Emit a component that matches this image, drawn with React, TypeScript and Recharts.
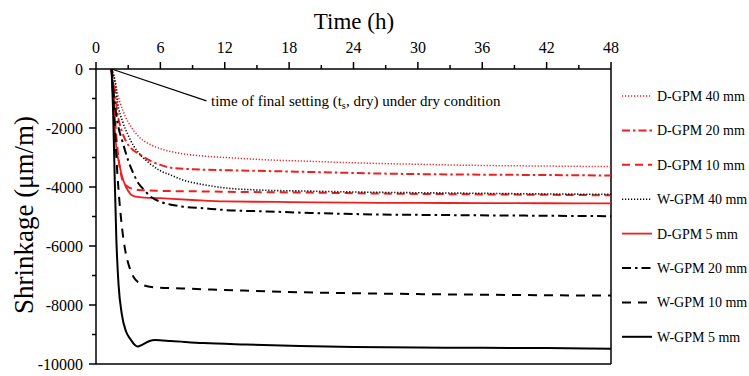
import { LineChart, Line, XAxis, YAxis, ReferenceLine } from "recharts";

// [time (h), shrinkage (µm/m)]
const dGpm40 = [
  [1.45, 0], [1.8, -400], [2.0, -800], [2.5, -1400], [3, -1800], [3.5, -2080], [4, -2300],
  [5, -2550], [6, -2700], [7, -2800], [8, -2870], [10, -2950], [13, -3020], [16, -3080],
  [20, -3130], [25, -3190], [30, -3230], [36, -3270], [42, -3290], [48, -3310],
];
const dGpm20 = [
  [1.45, 0], [1.7, -600], [2.0, -1500], [2.4, -2100], [2.8, -2450], [3.3, -2700], [4, -2880],
  [5, -3100], [6, -3250], [7, -3350], [9, -3400], [12, -3430], [16, -3460], [20, -3490],
  [26, -3540], [32, -3570], [40, -3590], [48, -3610],
];
const dGpm10 = [
  [1.45, 0], [1.65, -800], [1.8, -1800], [2.0, -2700], [2.2, -3300], [2.5, -3800], [3, -4000],
  [3.5, -4070], [4, -4100], [6, -4130], [10, -4150], [14, -4170], [20, -4190], [26, -4220],
  [32, -4240], [40, -4260], [48, -4280],
];
const wGpm40 = [
  [1.45, 0], [1.8, -500], [2.0, -1100], [2.5, -1800], [3, -2250], [3.5, -2600], [4, -2850],
  [5, -3200], [6, -3450], [7, -3600], [8, -3750], [10, -3920], [12, -4030], [15, -4100],
  [20, -4140], [26, -4180], [32, -4200], [40, -4230], [48, -4250],
];
const dGpm5 = [
  [1.45, 0], [1.6, -1000], [1.75, -2000], [1.9, -2700], [2.1, -3100], [2.4, -3600], [2.8, -4000],
  [3.2, -4230], [3.6, -4320], [4, -4340], [6, -4380], [9, -4440], [12, -4490], [18, -4510],
  [24, -4530], [30, -4540], [36, -4545], [42, -4550], [48, -4555],
];
const wGpm20 = [
  [1.45, 0], [1.7, -1000], [2.0, -1800], [2.5, -2500], [3, -3100], [3.5, -3550], [4, -3900],
  [4.5, -4100], [5, -4300], [6, -4500], [7, -4600], [8, -4660], [10, -4720], [12, -4780],
  [16, -4830], [20, -4880], [26, -4930], [32, -4950], [40, -4970], [48, -4990],
];
const wGpm10 = [
  [1.45, 0], [1.7, -1500], [1.9, -3000], [2.1, -4100], [2.4, -5300], [2.7, -6100], [3.1, -6700],
  [3.5, -7050], [4, -7250], [4.5, -7340], [5.5, -7400], [8, -7440], [12, -7490], [18, -7560],
  [24, -7600], [30, -7630], [36, -7650], [42, -7670], [48, -7680],
];
const wGpm5 = [
  [1.45, 0], [1.6, -1500], [1.75, -3800], [1.9, -5800], [2.1, -7300], [2.4, -8300], [2.8, -8900],
  [3.2, -9150], [3.6, -9350], [3.9, -9410], [4.3, -9350], [5, -9220], [5.5, -9190], [7, -9220],
  [10, -9290], [14, -9340], [19, -9390], [24, -9420], [30, -9440], [36, -9450], [42, -9460],
  [48, -9480],
];

const xTicks = [0, 3, 6, 9, 12, 15, 18, 21, 24, 27, 30, 33, 36, 39, 42, 45, 48];
const yTicks = [0, -1000, -2000, -3000, -4000, -5000, -6000, -7000, -8000, -9000, -10000];

const RED = "#ee1f1f";
const FONT = '"Liberation Serif", "Times New Roman", "DejaVu Serif", serif';
const txt = { fontFamily: FONT };

const series = [
  { name: "D-GPM 40 mm", data: dGpm40, color: RED, dash: "1.2 1.8", width: 1.5 },
  { name: "D-GPM 20 mm", data: dGpm20, color: RED, dash: "8 3 2.5 3", width: 2 },
  { name: "D-GPM 10 mm", data: dGpm10, color: RED, dash: "8 5", width: 2 },
  { name: "W-GPM 40 mm", data: wGpm40, color: "#000", dash: "1.2 1.8", width: 1.6 },
  { name: "D-GPM 5 mm", data: dGpm5, color: RED, dash: undefined, width: 1.8 },
  { name: "W-GPM 20 mm", data: wGpm20, color: "#000", dash: "9 4 2.5 4", width: 2 },
  { name: "W-GPM 10 mm", data: wGpm10, color: "#000", dash: "9 7", width: 2 },
  { name: "W-GPM 5 mm", data: wGpm5, color: "#000", dash: undefined, width: 2 },
];

const TOP = 69;
const LEFT = 96;

const XTick = ({ x, payload }: any) => {
  const major = payload.value % 6 === 0;
  return (
    <g>
      <line x1={x} x2={x} y1={TOP} y2={TOP - (major ? 7 : 4)} stroke="#000" strokeWidth={1.5} />
      {major && (
        <text x={x} y={53} textAnchor="middle" fontSize={16} style={txt} fill="#000">
          {payload.value}
        </text>
      )}
    </g>
  );
};

const YTick = ({ y, payload }: any) => {
  const major = payload.value % 2000 === 0;
  return (
    <g>
      <line x1={LEFT} x2={LEFT - (major ? 7 : 4)} y1={y} y2={y} stroke="#000" strokeWidth={1.5} />
      {major && (
        <text x={83} y={y + 5.5} textAnchor="end" fontSize={16} style={txt} fill="#000">
          {payload.value}
        </text>
      )}
    </g>
  );
};

export default function App() {
  return (
    <div style={{ position: "absolute", left: 0, top: 0, width: 749, height: 376, background: "#fff", fontFamily: FONT }}>
      <LineChart width={749} height={376} margin={{ top: 0, right: 138, bottom: 12, left: 0 }}>
        <XAxis
          type="number"
          dataKey="t"
          orientation="top"
          domain={[0, 48]}
          ticks={xTicks}
          interval={0}
          height={TOP}
          tickLine={false}
          tickSize={0}
          tick={<XTick />}
          axisLine={{ stroke: "#000", strokeWidth: 1.5 }}
          allowDataOverflow
        />
        <YAxis
          type="number"
          dataKey="v"
          domain={[-10000, 0]}
          ticks={yTicks}
          interval={0}
          width={LEFT}
          tickLine={false}
          tickSize={0}
          tick={<YTick />}
          axisLine={{ stroke: "#000", strokeWidth: 1.5 }}
          allowDataOverflow
        />
        <ReferenceLine x={48} stroke="#000" strokeWidth={1.5} />
        <ReferenceLine y={-10000} stroke="#000" strokeWidth={1.5} />
        <ReferenceLine
          segment={[{ x: 1.45, y: 0 }, { x: 10.3, y: -1080 }]}
          stroke="#000"
          strokeWidth={1.2}
        />
        {series.map((s) => (
          <Line
            key={s.name}
            data={s.data.map(([t, v]) => ({ t, v }))}
            dataKey="v"
            type="monotone"
            stroke={s.color}
            strokeWidth={s.width}
            strokeDasharray={s.dash}
            dot={false}
            isAnimationActive={false}
          />
        ))}
      </LineChart>
      <svg
        width={749}
        height={376}
        style={{ position: "absolute", left: 0, top: 0, pointerEvents: "none" }}
      >
        <text x={354} y={29} textAnchor="middle" fontSize={23} style={txt} fill="#000">
          Time (h)
        </text>
        <text
          transform="translate(33,215) rotate(-90)"
          textAnchor="middle"
          fontSize={27}
          style={txt}
          fill="#000"
        >
          Shrinkage (μm/m)
        </text>
        <text x={211} y={106} fontSize={15} style={txt} fill="#000">
          time of final setting (t
          <tspan fontSize={10.5} dy={3}>s</tspan>
          <tspan dy={-3}>, dry) under dry condition</tspan>
        </text>
        {series.map((s, i) => {
          const y = 96 + i * 34.4;
          return (
            <g key={s.name}>
              <line
                x1={622}
                x2={652}
                y1={y}
                y2={y}
                stroke={s.color}
                strokeWidth={s.width}
                strokeDasharray={s.dash}
              />
              <text x={657} y={y + 5} fontSize={14} style={txt} fill="#000">
                {s.name}
              </text>
            </g>
          );
        })}
      </svg>
    </div>
  );
}
